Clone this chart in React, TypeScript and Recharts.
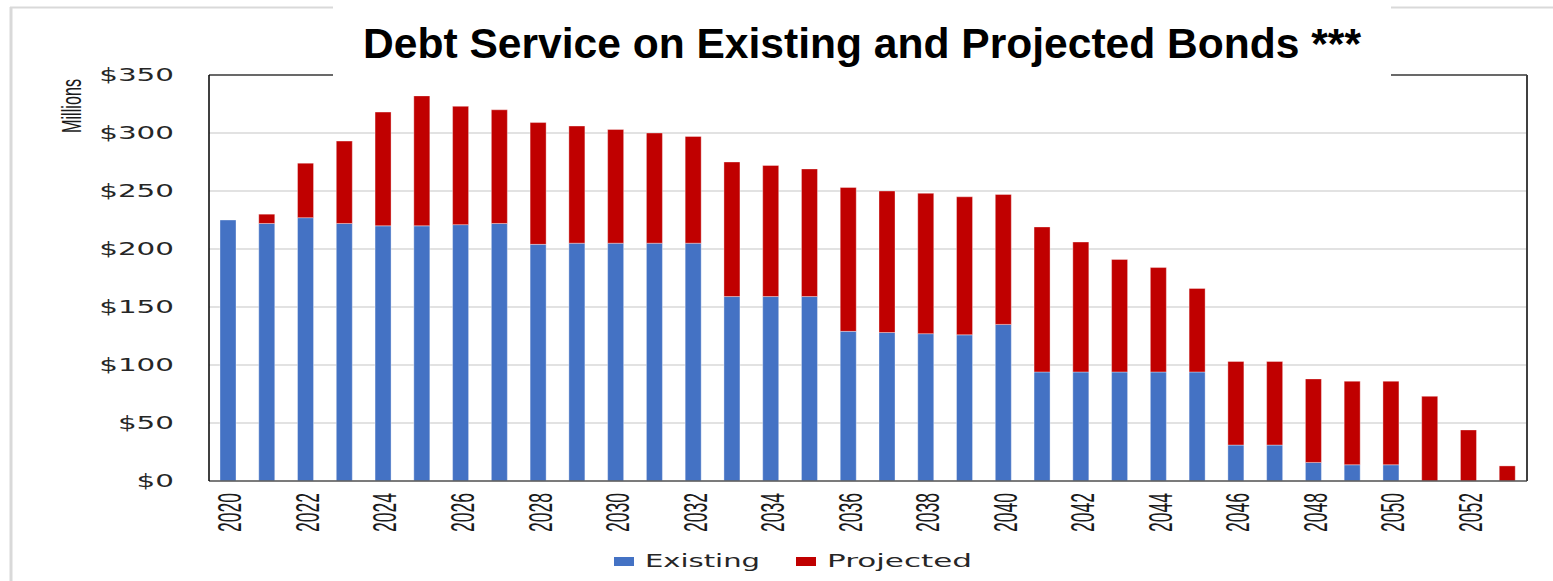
import React from "react";
import {
  BarChart,
  Bar,
  XAxis,
  YAxis,
  CartesianGrid,
  Legend,
} from "recharts";

const years = [
  "2020", "2021", "2022", "2023", "2024", "2025", "2026", "2027", "2028", "2029",
  "2030", "2031", "2032", "2033", "2034", "2035", "2036", "2037", "2038", "2039",
  "2040", "2041", "2042", "2043", "2044", "2045", "2046", "2047", "2048", "2049",
  "2050", "2051", "2052", "2053",
];

const existing = [
  225, 222, 227, 222, 220, 220, 221, 222, 204, 205,
  205, 205, 205, 159, 159, 159, 129, 128, 127, 126,
  135, 94, 94, 94, 94, 94, 31, 31, 16, 14,
  14, 0, 0, 0,
];

const projected = [
  0, 8, 47, 71, 98, 112, 102, 98, 105, 101,
  98, 95, 92, 116, 113, 110, 124, 122, 121, 119,
  112, 125, 112, 97, 90, 72, 72, 72, 72, 72,
  72, 73, 44, 13,
];

const yTicks = [0, 50, 100, 150, 200, 250, 300, 350];

const data = years.map((year, i) => ({
  year,
  Existing: existing[i],
  Projected: projected[i],
}));

const BLUE = "#4472C4";
const RED = "#C00000";

// y labels look horizontally stretched in the source, so force the width
const YTick = (props: any) => {
  const { x, y, payload } = props;
  const label = "$" + payload.value;
  return (
    <text
      x={x}
      y={y}
      dy={6}
      textAnchor="end"
      fontFamily="DejaVu Sans"
      fontSize={18}
      fill="#262626"
      textLength={label.length * 18.7}
      lengthAdjust="spacingAndGlyphs"
    >
      {label}
    </text>
  );
};

// x labels are tall and narrow, rotated
const XTick = (props: any) => {
  const { x, y, payload } = props;
  const bx = x + 13;
  return (
    <text
      x={bx}
      y={y}
      transform={`rotate(-90, ${bx}, ${y})`}
      textAnchor="end"
      fontFamily="Liberation Sans"
      fontSize={34}
      fill="#1a1a1a"
      textLength={39}
      lengthAdjust="spacingAndGlyphs"
    >
      {payload.value}
    </text>
  );
};

const renderLegend = (props: any) => {
  const { payload } = props;
  const widths = [115, 145];
  let cx = 614;
  return (
    <svg width={1553} height={40} style={{ overflow: "visible", display: "block" }}>
      {payload.map((entry: any, i: number) => {
        const sx = cx;
        cx += 182;
        return (
          <g key={entry.value}>
            <rect x={sx} y={12} width={20} height={9} fill={entry.color} />
            <text
              x={sx + 31}
              y={22}
              fontFamily="DejaVu Sans"
              fontSize={17}
              fill="#262626"
              textLength={widths[i]}
              lengthAdjust="spacingAndGlyphs"
            >
              {entry.value}
            </text>
          </g>
        );
      })}
    </svg>
  );
};

export default function App() {
  return (
    <div
      style={{
        position: "absolute",
        left: 0,
        top: 0,
        width: 1553,
        height: 581,
        background: "#fff",
        overflow: "hidden",
      }}
    >
      <BarChart
        width={1553}
        height={581}
        data={data}
        margin={{ top: 74, right: 25, bottom: 0, left: 0 }}
        barSize={16}
      >
        <CartesianGrid vertical={false} stroke="#d9d9d9" strokeWidth={1.5} />
        <XAxis
          dataKey="year"
          interval={1}
          tickLine={false}
          tickSize={0}
          tickMargin={12}
          height={100}
          axisLine={{ stroke: "#595959", strokeWidth: 1.5 }}
          tick={<XTick />}
        />
        <XAxis
          xAxisId="top"
          orientation="top"
          dataKey="year"
          height={1}
          tick={false}
          tickLine={false}
          axisLine={{ stroke: "#404040", strokeWidth: 1.5 }}
        />
        <YAxis
          domain={[0, 350]}
          ticks={yTicks}
          width={209}
          tickLine={false}
          tickSize={0}
          tickMargin={35}
          axisLine={{ stroke: "#000", strokeWidth: 1.5 }}
          tick={<YTick />}
        />
        <YAxis
          yAxisId="right"
          orientation="right"
          domain={[0, 350]}
          width={1}
          tick={false}
          tickLine={false}
          axisLine={{ stroke: "#404040", strokeWidth: 2 }}
        />
        <Legend
          content={renderLegend}
          wrapperStyle={{ position: "absolute", left: 0, top: 545, width: 1553, height: 0 }}
        />
        <Bar
          dataKey="Existing"
          stackId="a"
          fill={BLUE}
          stroke="#ffffff"
          strokeOpacity={0.35}
          isAnimationActive={false}
        />
        <Bar
          dataKey="Projected"
          stackId="a"
          fill={RED}
          stroke="#ffffff"
          strokeOpacity={0.35}
          isAnimationActive={false}
        />
      </BarChart>
      <svg
        width={1553}
        height={581}
        style={{ position: "absolute", left: 0, top: 0, pointerEvents: "none" }}
      >
        <line x1={10} y1={7.5} x2={1553} y2={7.5} stroke="#d9d9d9" strokeWidth={2} />
        <line x1={11} y1={7} x2={11} y2={581} stroke="#d9d9d9" strokeWidth={3} />
        <rect x={333} y={0} width={1058} height={78} fill="#ffffff" />
        <text
          x={363}
          y={58}
          fontFamily="Liberation Sans"
          fontWeight="bold"
          fontSize={42}
          fill="#000"
          textLength={998}
          lengthAdjust="spacingAndGlyphs"
        >
          Debt Service on Existing and Projected Bonds ***
        </text>
        <text
          x={81}
          y={106}
          transform="rotate(-90, 81, 106)"
          textAnchor="middle"
          fontFamily="Liberation Sans"
          fontSize={27}
          fill="#1a1a1a"
          textLength={54}
          lengthAdjust="spacingAndGlyphs"
        >
          Millions
        </text>
      </svg>
    </div>
  );
}
